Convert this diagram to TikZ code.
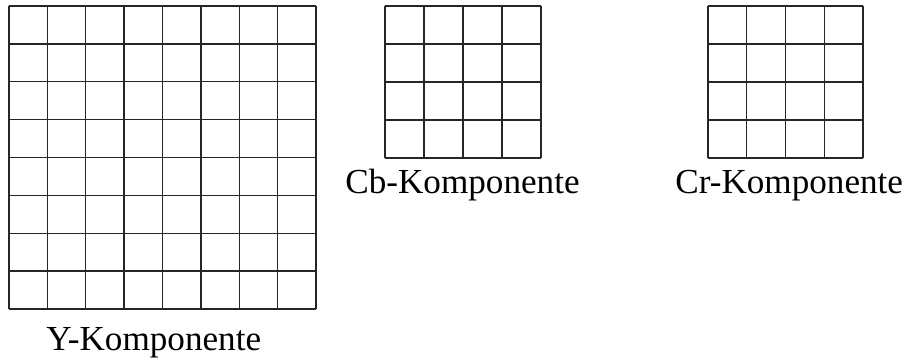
\documentclass[tikz,border=0pt]{standalone}
\usepackage{fontspec}
\setmainfont{Liberation Serif}
\usetikzlibrary{positioning}
\tikzset{
  gridline/.style = {line width=0.75pt, black!85},
  complabel/.style = {anchor=base west, inner sep=0pt, font=\fontsize{20}{24}\selectfont}
}

\begin{document}
\begin{tikzpicture}

    \useasboundingbox (0,0) rectangle (18.16,7.18);

    %% Komponenten

    % Y (8x8)
    \draw[gridline, shift={(0.18,1.0)}, xstep=0.7675, ystep=0.7575] (0,0) grid (6.141,6.061);
    \node[complabel] (ylabel) at (0.92,0.18) {Y-Komponente};

    % Cb (4x4)
    \draw[gridline, shift={(7.70,4.02)}, xstep=0.78, ystep=0.76] (0,0) grid (3.121,3.041);
    \node[complabel] (cblabel) at (6.90,3.32) {Cb-Komponente};

    % Cr (4x4)
    \draw[gridline, shift={(14.16,4.02)}, xstep=0.775, ystep=0.76] (0,0) grid (3.101,3.041);
    \node[complabel] (crlabel) at (13.50,3.32) {Cr-Komponente};

\end{tikzpicture}
\end{document}
